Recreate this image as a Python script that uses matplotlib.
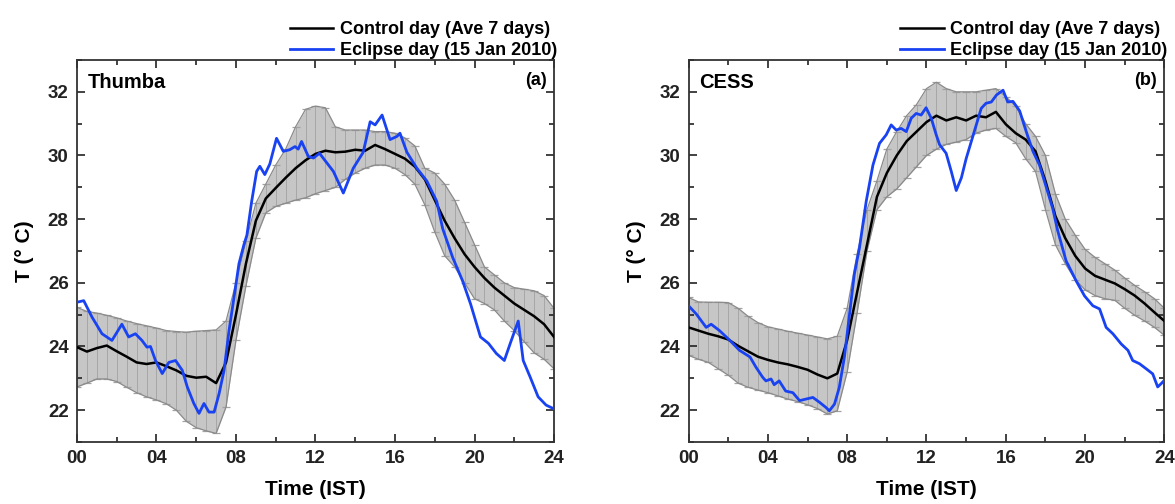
import matplotlib
matplotlib.use("Agg")
import matplotlib.pyplot as plt
from matplotlib.ticker import MultipleLocator, FixedLocator
import numpy as np

plt.rcParams['font.family'] = ['Liberation Sans', 'DejaVu Sans']
plt.rcParams['font.weight'] = 'bold'

# ---------------- data ----------------
ctrl_hours = [0, 0.5, 1, 1.5, 2, 2.5, 3, 3.5, 4, 4.5, 5, 5.5, 6, 6.5, 7, 7.5, 8, 8.5, 9, 9.5,
              10, 10.5, 11, 11.5, 12, 12.5, 13, 13.5, 14, 14.5, 15, 15.5, 16, 16.5, 17, 17.5,
              18, 18.5, 19, 19.5, 20, 20.5, 21, 21.5, 22, 22.5, 23, 23.5, 24]

# Thumba (a)
thumba_ctrl = [23.98, 23.84, 23.95, 24.03, 23.85, 23.68, 23.5, 23.45, 23.5, 23.38, 23.25, 23.08,
               23.02, 23.05, 22.85, 23.5, 25.0, 26.6, 27.95, 28.65, 28.98, 29.3, 29.6, 29.85,
               30.05, 30.15, 30.1, 30.12, 30.18, 30.15, 30.33, 30.2, 30.05, 29.9, 29.65, 29.25,
               28.6, 27.95, 27.4, 26.9, 26.5, 26.15, 25.85, 25.6, 25.35, 25.15, 24.95, 24.7, 24.3]
thumba_ctrl_hi = [25.23, 25.1, 25.05, 24.98, 24.9, 24.8, 24.72, 24.65, 24.58, 24.5, 24.47, 24.45,
                  24.48, 24.5, 24.52, 24.8, 26.0, 27.3, 28.5, 29.1, 29.7, 30.2, 30.9, 31.45,
                  31.55, 31.5, 30.9, 30.8, 30.8, 30.8, 30.75, 30.75, 30.7, 30.55, 30.3, 29.6,
                  29.45, 29.1, 28.6, 27.9, 27.2, 26.5, 26.25, 26.0, 25.85, 25.8, 25.75, 25.6, 25.2]
thumba_ctrl_lo = [22.73, 22.85, 22.98, 22.98, 22.9, 22.72, 22.55, 22.42, 22.32, 22.2, 22.0, 21.65,
                  21.45, 21.35, 21.27, 22.1, 24.2, 25.9, 27.4, 28.2, 28.4, 28.5, 28.6, 28.67,
                  28.8, 28.9, 29.0, 29.25, 29.45, 29.6, 29.7, 29.7, 29.6, 29.4, 29.1, 28.45,
                  27.6, 26.85, 26.5, 26.0, 25.5, 25.35, 25.15, 24.8, 24.5, 24.15, 23.8, 23.6, 23.3]

thumba_ecl_hours = [0, 0.34, 0.76, 1.26, 1.76, 2.26, 2.6, 2.94, 3.27, 3.52, 3.7, 3.95, 4.29, 4.62,
                    4.96, 5.3, 5.55, 5.88, 6.14, 6.39, 6.64, 6.9, 7.15, 7.4, 7.65, 7.9, 8.15, 8.4,
                    8.55, 8.79, 9.04, 9.2, 9.45, 9.7, 10.04, 10.38, 10.7, 10.97, 11.13, 11.3, 11.64,
                    11.9, 12.2, 12.9, 13.4, 13.9, 14.4, 14.75, 15.0, 15.35, 15.75, 16.1, 16.25,
                    16.6, 17.1, 17.6, 18.1, 18.4, 18.9, 19.4, 19.8, 20.3, 20.7, 21.1, 21.5, 21.8,
                    22.2, 22.45, 22.8, 23.2, 23.6, 24.0]
thumba_ecl = [25.39, 25.44, 24.92, 24.4, 24.19, 24.7, 24.3, 24.4, 24.19, 23.98, 24.0, 23.56, 23.15,
              23.5, 23.56, 23.25, 22.73, 22.21, 21.9, 22.21, 21.94, 21.94, 22.52, 23.25, 24.5,
              25.54, 26.6, 27.2, 27.5, 28.56, 29.5, 29.66, 29.4, 29.73, 30.54, 30.13, 30.18,
              30.28, 30.2, 30.44, 29.97, 29.92, 30.07, 29.5, 28.82, 29.6, 30.1, 31.06, 30.96,
              31.27, 30.5, 30.6, 30.7, 30.1, 29.6, 29.2, 28.56, 27.7, 26.8, 26.06, 25.34, 24.3,
              24.1, 23.78, 23.56, 24.1, 24.8, 23.56, 23.04, 22.42, 22.16, 22.04]

# CESS (b)
cess_ctrl = [24.6, 24.5, 24.4, 24.32, 24.22, 24.02, 23.85, 23.68, 23.58, 23.5, 23.44, 23.36,
             23.27, 23.12, 23.0, 23.15, 24.2, 25.7, 27.2, 28.7, 29.45, 30.0, 30.45, 30.75,
             31.05, 31.25, 31.1, 31.2, 31.1, 31.25, 31.2, 31.37, 30.98, 30.7, 30.5, 30.13,
             29.2, 28.1, 27.4, 26.85, 26.45, 26.22, 26.1, 25.98, 25.8, 25.6, 25.35, 25.07, 24.8]
cess_ctrl_hi = [25.54, 25.4, 25.39, 25.39, 25.38, 25.2, 24.95, 24.75, 24.62, 24.55, 24.48, 24.42,
                24.36, 24.3, 24.24, 24.32, 25.2, 26.9, 28.3, 29.2, 30.2, 30.75, 31.25, 31.6,
                32.1, 32.3, 32.1, 32.0, 32.0, 32.0, 32.05, 32.1, 31.85, 31.55, 31.0, 30.6,
                30.0, 28.8, 28.0, 27.5, 27.05, 26.8, 26.6, 26.4, 26.15, 25.92, 25.72, 25.5, 25.2]
cess_ctrl_lo = [23.72, 23.6, 23.5, 23.3, 23.1, 22.85, 22.72, 22.63, 22.55, 22.45, 22.35, 22.27,
                22.17, 22.05, 21.88, 21.98, 23.2, 25.05, 27.0, 28.3, 28.7, 28.95, 29.3, 29.65,
                30.0, 30.2, 30.35, 30.42, 30.5, 30.7, 30.8, 30.85, 30.6, 30.4, 29.9, 29.5,
                28.3, 27.2, 26.6, 26.1, 25.78, 25.6, 25.5, 25.45, 25.2, 24.98, 24.8, 24.6, 24.35]

cess_ecl_hours = [0, 0.39, 0.89, 1.14, 1.56, 2.07, 2.57, 3.1, 3.4, 3.73, 3.9, 4.16, 4.32, 4.57,
                  4.9, 5.26, 5.6, 5.93, 6.27, 6.6, 6.94, 7.1, 7.36, 7.6, 7.86, 8.1, 8.36, 8.62,
                  8.96, 9.3, 9.63, 9.97, 10.22, 10.47, 10.72, 10.98, 11.23, 11.48, 11.73, 11.98,
                  12.24, 12.49, 12.66, 12.99, 13.25, 13.5, 13.76, 14.0, 14.26, 14.51, 14.76,
                  15.0, 15.27, 15.53, 15.86, 16.1, 16.36, 16.7, 17.03, 17.37, 17.7, 18.36,
                  18.62, 19.04, 19.55, 19.97, 20.39, 20.73, 21.06, 21.4, 21.82, 22.16, 22.4,
                  22.74, 23.08, 23.41, 23.66, 23.83, 24.0]
cess_ecl = [25.28, 25.02, 24.6, 24.7, 24.5, 24.2, 23.88, 23.67, 23.35, 23.04, 22.92, 22.98, 22.8,
            22.92, 22.6, 22.55, 22.3, 22.35, 22.4, 22.25, 22.08, 21.98, 22.19, 22.71, 23.67,
            24.92, 26.27, 27.1, 28.56, 29.7, 30.38, 30.65, 30.96, 30.8, 30.85, 30.75, 31.17,
            31.32, 31.27, 31.5, 31.17, 30.65, 30.34, 30.07, 29.5, 28.9, 29.3, 29.9, 30.44,
            30.96, 31.48, 31.64, 31.68, 31.9, 32.05, 31.68, 31.7, 31.4, 30.75, 30.13, 29.7,
            28.35, 27.63, 26.69, 26.06, 25.59, 25.28, 25.18, 24.6, 24.4, 24.08, 23.88, 23.56,
            23.46, 23.3, 23.14, 22.73, 22.83, 22.94]

site_names = ["Thumba", "CESS"]
panel_tags = ["(a)", "(b)"]
legend_labels = ["Control day (Ave 7 days)", "Eclipse day (15 Jan 2010)"]
x_ticks = [0, 4, 8, 12, 16, 20, 24]
x_ticklabels = ["00", "04", "08", "12", "16", "20", "24"]
y_ticks = [22, 24, 26, 28, 30, 32]

panels = [
    (thumba_ctrl, thumba_ctrl_lo, thumba_ctrl_hi, thumba_ecl_hours, thumba_ecl),
    (cess_ctrl, cess_ctrl_lo, cess_ctrl_hi, cess_ecl_hours, cess_ecl),
]

# ---------------- figure ----------------
fig = plt.figure(figsize=(11.75, 5.04), dpi=100)
positions = [[0.0655, 0.123, 0.406, 0.758], [0.586, 0.123, 0.405, 0.758]]
blue = '#1842f2'

for i, (mean, lo, hi, eh, ev) in enumerate(panels):
    ax = fig.add_axes(positions[i])
    h = np.array(ctrl_hours)
    m = np.array(mean)
    l = np.array(lo)
    u = np.array(hi)
    ax.fill_between(h, l, u, color='#c6c6c6', lw=0, zorder=1)
    ax.errorbar(h, m, yerr=[m - l, u - m], fmt='none', ecolor='#a2a2a2',
                elinewidth=0.6, capsize=3, capthick=0.9, zorder=2)
    ax.plot(h, u, color='#8a8a8a', lw=0.9, zorder=2)
    ax.plot(h, l, color='#8a8a8a', lw=0.9, zorder=2)
    ln1, = ax.plot(h, m, color='black', lw=1.8, zorder=3, label=legend_labels[0])
    ln2, = ax.plot(eh, ev, color=blue, lw=2.0, zorder=4, label=legend_labels[1])

    ax.set_xlim(0, 24)
    ax.set_ylim(21, 33)
    ax.xaxis.set_major_locator(FixedLocator(x_ticks))
    ax.set_xticklabels(x_ticklabels)
    ax.xaxis.set_minor_locator(MultipleLocator(2))
    ax.yaxis.set_major_locator(FixedLocator(y_ticks))
    ax.yaxis.set_minor_locator(MultipleLocator(1))
    ax.tick_params(which='both', direction='in', top=True, right=True, width=1.2,
                   colors='#222222', labelsize=13.5)
    ax.tick_params(which='major', length=6, pad=6)
    ax.tick_params(which='minor', length=3.5)
    for lab in ax.get_xticklabels() + ax.get_yticklabels():
        lab.set_fontweight('bold')
    for sp in ax.spines.values():
        sp.set_linewidth(1.3)
        sp.set_color('#333333')

    ax.set_xlabel("Time (IST)", fontsize=15, fontweight='bold')
    ax.set_ylabel("T (\u00b0 C)", fontsize=15, fontweight='bold')
    ax.xaxis.set_label_coords(0.5, -0.1)
    ax.yaxis.set_label_coords(-0.09, 0.5)

    ax.text(0.022, 0.94, site_names[i], transform=ax.transAxes, fontsize=14.5,
            fontweight='bold', ha='left', va='center')
    ax.text(0.985, 0.945, panel_tags[i], transform=ax.transAxes, fontsize=13,
            fontweight='bold', ha='right', va='center')

    ax.legend(handles=[ln1, ln2], loc='lower right', bbox_to_anchor=(1.006, 1.003),
              frameon=False, handlelength=2.4, handletextpad=0.35,
              borderpad=0, borderaxespad=0, labelspacing=0.22,
              prop={'weight': 'bold', 'size': 13})

fig.savefig("out.png", dpi=100)
